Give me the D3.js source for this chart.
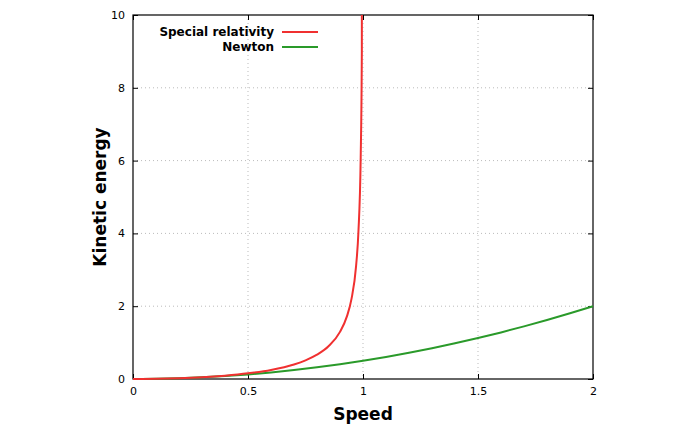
<!DOCTYPE html><html><head><meta charset="utf-8"><script src="https://cdn.jsdelivr.net/npm/d3@7"></script>
<style>body{margin:0;background:#fff}</style></head><body><svg id="c" width="689" height="432"></svg>
<script>
const relSpeed=[0,0.1,0.2,0.3,0.4,0.5,0.6,0.7,0.75,0.8,0.85,0.9,0.93,0.95,0.97,0.98,0.99,0.995,0.99504];
const relEnergy=[0,0.005,0.021,0.048,0.091,0.155,0.25,0.40,0.512,0.667,0.898,1.294,1.72,2.20,3.11,4.03,6.09,9.01,10];
const newtonSpeed=[0,0.1,0.2,0.3,0.4,0.5,0.6,0.7,0.8,0.9,1,1.1,1.2,1.3,1.4,1.5,1.6,1.7,1.8,1.9,2];
const newtonEnergy=[0,0.005,0.02,0.045,0.08,0.125,0.18,0.245,0.32,0.405,0.5,0.605,0.72,0.845,0.98,1.125,1.28,1.445,1.62,1.805,2];
const xTicks=[0,0.5,1,1.5,2], yTicks=[0,2,4,6,8,10];
const svg=d3.select("#c");
const L=133,R=593,T=15,B=379;
const x=d3.scaleLinear().domain([0,2]).range([L,R]);
const y=d3.scaleLinear().domain([0,10]).range([B,T]);
const g=svg.append("g");
// grid
g.selectAll(".gx").data(xTicks.slice(1,-1)).join("line").attr("x1",x).attr("x2",x).attr("y1",T).attr("y2",B).attr("stroke","#bbb").attr("stroke-dasharray","1,3");
g.selectAll(".gy").data(yTicks.slice(1,-1)).join("line").attr("y1",y).attr("y2",y).attr("x1",L).attr("x2",R).attr("stroke","#bbb").attr("stroke-dasharray","1,3");
const ax=svg.append("g").attr("transform",`translate(0,${B})`).call(d3.axisBottom(x).tickValues(xTicks).tickFormat(d=>d).tickSize(-5).tickPadding(8));
const ax2=svg.append("g").attr("transform",`translate(0,${T})`).call(d3.axisTop(x).tickValues(xTicks).tickFormat("").tickSize(-5));
const ay=svg.append("g").attr("transform",`translate(${L},0)`).call(d3.axisLeft(y).tickValues(yTicks).tickSize(-5).tickPadding(8));
const ay2=svg.append("g").attr("transform",`translate(${R},0)`).call(d3.axisRight(y).tickValues(yTicks).tickFormat("").tickSize(-5));
svg.selectAll(".domain").remove();
svg.selectAll(".tick text").attr("font-family","DejaVu Sans").attr("font-size",11).attr("fill","#000");
svg.append("rect").attr("x",L).attr("y",T).attr("width",R-L).attr("height",B-T).attr("fill","none").attr("stroke","#000").attr("stroke-width",1.2);
const line=d3.line().x(d=>x(d[0])).y(d=>y(d[1])).curve(d3.curveMonotoneX);
svg.append("path").attr("d",line(newtonSpeed.map((v,i)=>[v,newtonEnergy[i]]))).attr("fill","none").attr("stroke","#2a9a2a").attr("stroke-width",2);
svg.append("path").attr("d",line(relSpeed.map((v,i)=>[v,relEnergy[i]]))).attr("fill","none").attr("stroke","#f03030").attr("stroke-width",2);
const lg=[["Special relativity","#f03030",32],["Newton","#2a9a2a",47]];
lg.forEach(([t,c,yy])=>{svg.append("text").attr("x",274).attr("y",yy+4).attr("text-anchor","end").attr("font-family","DejaVu Sans").attr("font-weight","bold").attr("font-size",12).text(t);
svg.append("line").attr("x1",282).attr("x2",318).attr("y1",yy).attr("y2",yy).attr("stroke",c).attr("stroke-width",2);});
svg.append("text").attr("x",(L+R)/2).attr("y",420).attr("text-anchor","middle").attr("font-family","DejaVu Sans").attr("font-weight","bold").attr("font-size",17).text("Speed");
svg.append("text").attr("transform",`translate(106,${(T+B)/2}) rotate(-90)`).attr("text-anchor","middle").attr("font-family","DejaVu Sans").attr("font-weight","bold").attr("font-size",17).text("Kinetic energy");
</script></body></html>
